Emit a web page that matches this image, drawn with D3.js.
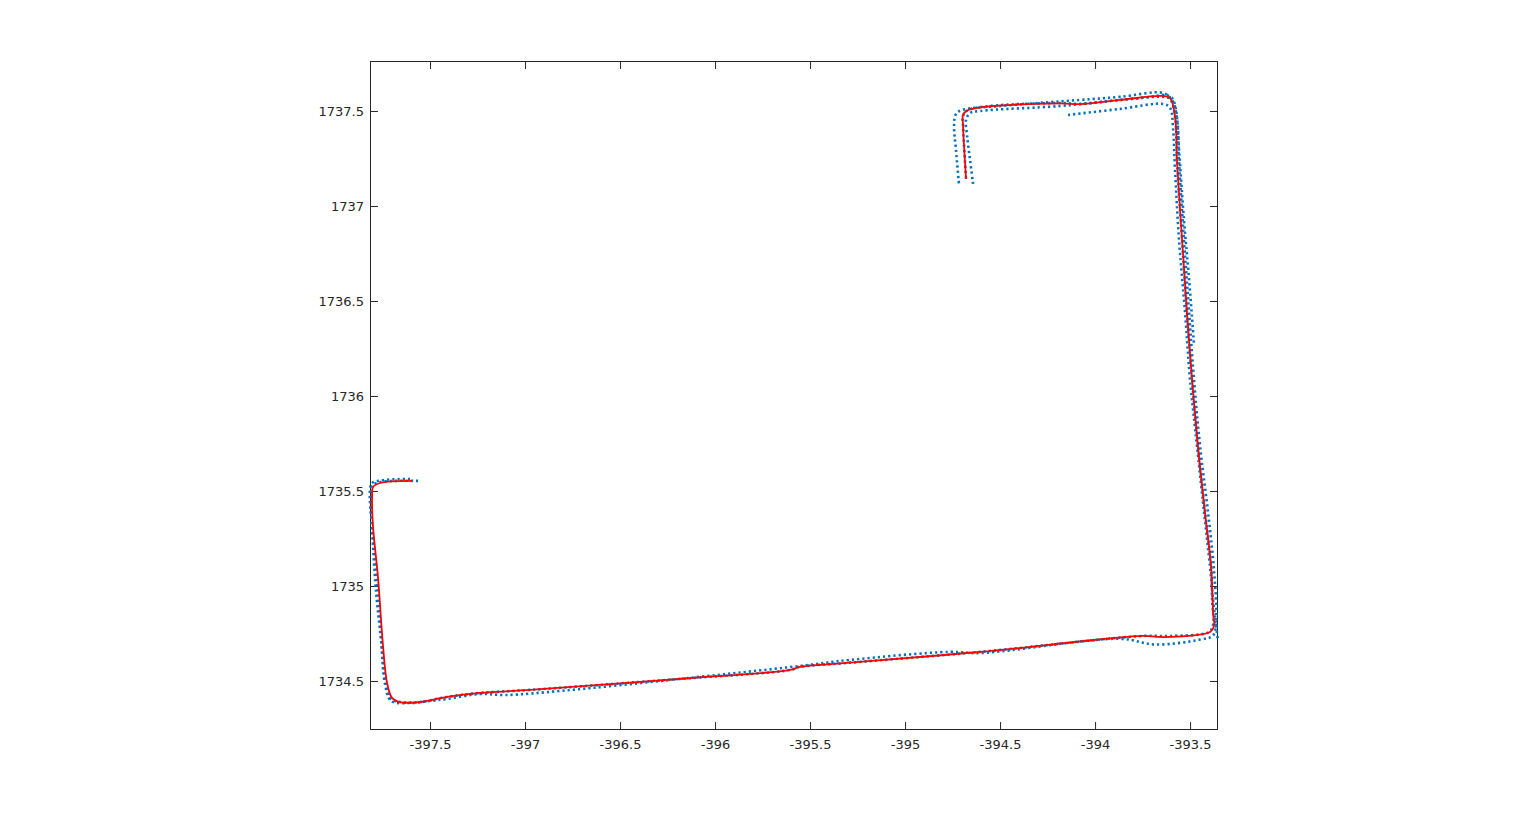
<!DOCTYPE html>
<html>
<head>
<meta charset="utf-8">
<script src="https://cdn.jsdelivr.net/npm/d3@7"></script>
<style>
  html, body { margin: 0; padding: 0; background: #fff; }
  svg { display: block; }
  .tick text { font-family: "DejaVu Sans", sans-serif; font-size: 13px; fill: #262626; }
</style>
</head>
<body>
<svg id="chart" width="1535" height="821"></svg>
<script>
// tick values
const xTicks = [-397.5, -397, -396.5, -396, -395.5, -395, -394.5, -394, -393.5];
const yTicks = [1734.5, 1735, 1735.5, 1736, 1736.5, 1737, 1737.5];

// estimated path (red)
const redX = [-397.595, -397.763, -397.800, -397.805, -397.800, -397.774, -397.747, -397.726, -397.700, -397.658,
  -397.553, -397.411, -397.237, -396.974, -396.184, -395.605, -395.553, -395.305, -394.605, -393.747,
  -393.674, -393.605, -393.395, -393.374, -393.379, -393.389, -393.421, -393.458, -393.489, -393.516,
  -393.542, -393.568, -393.579, -393.605, -393.642, -393.868, -394.079, -394.184, -394.668, -394.695,
  -394.695, -394.679];
const redY = [1735.553, 1735.542, 1735.521, 1735.468, 1735.311, 1735.047, 1734.679, 1734.489, 1734.411, 1734.389,
  1734.389, 1734.416, 1734.437, 1734.453, 1734.511, 1734.558, 1734.574, 1734.595, 1734.653, 1734.737,
  1734.732, 1734.732, 1734.758, 1734.789, 1734.858, 1735.100, 1735.384, 1735.732, 1736.084, 1736.437,
  1736.821, 1737.226, 1737.468, 1737.568, 1737.579, 1737.558, 1737.536, 1737.540, 1737.505, 1737.479,
  1737.426, 1737.142];

// measured runs (blue, dotted)
const blue1X = [-397.563, -397.684, -397.763, -397.800, -397.811, -397.805, -397.779, -397.753, -397.732, -397.705,
  -397.658, -397.553, -397.411, -397.237, -396.974, -396.184, -395.605, -395.553, -395.305, -394.605,
  -393.747, -393.605, -393.400, -393.379, -393.384, -393.389, -393.421, -393.458, -393.489, -393.516,
  -393.542, -393.568, -393.579, -393.605, -393.642, -393.868, -394.079, -394.184, -394.668, -394.695,
  -394.695, -394.679];
const blue1Y = [1735.553, 1735.553, 1735.547, 1735.532, 1735.489, 1735.311, 1735.047, 1734.679, 1734.484, 1734.405,
  1734.389, 1734.389, 1734.416, 1734.437, 1734.453, 1734.511, 1734.558, 1734.574, 1734.595, 1734.653,
  1734.737, 1734.737, 1734.758, 1734.795, 1734.926, 1735.100, 1735.384, 1735.732, 1736.084, 1736.437,
  1736.821, 1737.226, 1737.468, 1737.563, 1737.574, 1737.558, 1737.537, 1737.542, 1737.505, 1737.474,
  1737.426, 1737.142];

const blue2X = [-397.605, -397.737, -397.805, -397.816, -397.805, -397.784, -397.758, -397.737, -397.705, -397.605,
  -397.500, -397.411, -397.237, -397.105, -396.789, -396.184, -395.553, -395.289, -394.763, -394.605,
  -393.868, -393.684, -393.447, -393.379,
  -393.363, -393.374, -393.405, -393.447, -393.479, -393.505, -393.532, -393.558, -393.568, -393.595,
  -393.642, -393.868, -394.079, -394.500, -394.700, -394.732, -394.742, -394.732, -394.716];
const blue2Y = [1735.563, 1735.558, 1735.542, 1735.505, 1735.295, 1734.968, 1734.716, 1734.484, 1734.395, 1734.384,
  1734.395, 1734.405, 1734.432, 1734.426, 1734.450, 1734.511, 1734.579, 1734.611, 1734.653, 1734.647,
  1734.722, 1734.692, 1734.718, 1734.740,
  1734.821, 1735.084, 1735.384, 1735.732, 1736.084, 1736.437, 1736.821, 1737.226, 1737.453, 1737.558,
  1737.595, 1737.574, 1737.558, 1737.526, 1737.505, 1737.484, 1737.426, 1737.295, 1737.111];

const blue3X = [-394.642, -394.658, -394.674, -394.679, -394.658, -394.605, -394.184, -393.974, -393.711, -393.632,
  -393.595, -393.574, -393.558, -393.532, -393.505, -393.479];
const blue3Y = [1737.116, 1737.242, 1737.374, 1737.453, 1737.489, 1737.500, 1737.526, 1737.547, 1737.574, 1737.584,
  1737.568, 1737.505, 1737.295, 1736.926, 1736.611, 1736.268];

const blue4X = [-394.142, -393.868, -393.642, -393.605, -393.589, -393.579, -393.558, -393.526, -393.500, -393.463,
  -393.426, -393.395, -393.379, -393.363, -393.355];
const blue4Y = [1737.479, 1737.511, 1737.537, 1737.516, 1737.400, 1737.189, 1736.821, 1736.437, 1736.084, 1735.732,
  1735.384, 1735.100, 1734.926, 1734.795, 1734.726];

const zip = (xs, ys) => xs.map((x, i) => [x, ys[i]]);
const blueRuns = [zip(blue1X, blue1Y), zip(blue2X, blue2Y), zip(blue3X, blue3Y), zip(blue4X, blue4Y)];
const redPath = zip(redX, redY);

const svg = d3.select('#chart');
const margin = { left: 370, top: 61, right: 1218, bottom: 730 };

const x = d3.scaleLinear()
    .domain([-397.816, -393.353])
    .range([margin.left, margin.right]);
const y = d3.scaleLinear()
    .domain([1734.242, 1737.763])
    .range([margin.bottom, margin.top]);

const line = d3.line()
    .x(d => x(d[0]))
    .y(d => y(d[1]))
    .curve(d3.curveCatmullRom.alpha(0.5));

const fmt = d => String(d);
const tickLen = 8;
const axisColor = '#262626';

// axes with inward ticks, like the original
svg.append('g')
    .attr('transform', `translate(0,${margin.bottom})`)
    .call(d3.axisBottom(x).tickValues(xTicks).tickFormat(fmt).tickSizeInner(-tickLen).tickSizeOuter(0).tickPadding(10));
svg.append('g')
    .attr('transform', `translate(0,${margin.top})`)
    .call(d3.axisTop(x).tickValues(xTicks).tickFormat('').tickSizeInner(-tickLen).tickSizeOuter(0));
svg.append('g')
    .attr('transform', `translate(${margin.left},0)`)
    .call(d3.axisLeft(y).tickValues(yTicks).tickFormat(fmt).tickSizeInner(-tickLen).tickSizeOuter(0).tickPadding(6));
svg.append('g')
    .attr('transform', `translate(${margin.right},0)`)
    .call(d3.axisRight(y).tickValues(yTicks).tickFormat('').tickSizeInner(-tickLen).tickSizeOuter(0));

svg.selectAll('.domain').remove();
svg.selectAll('.tick line').attr('stroke', axisColor);

svg.append('rect')
    .attr('x', margin.left + 0.5)
    .attr('y', margin.top + 0.5)
    .attr('width', margin.right - margin.left - 1)
    .attr('height', margin.bottom - margin.top - 1)
    .attr('fill', 'none')
    .attr('stroke', axisColor)
    .attr('stroke-width', 1);

svg.selectAll('path.run')
    .data(blueRuns)
    .join('path')
    .attr('class', 'run')
    .attr('d', line)
    .attr('fill', 'none')
    .attr('stroke', '#0072bd')
    .attr('stroke-width', 2.6)
    .attr('stroke-dasharray', '2.2 3');

svg.append('path')
    .attr('d', line(redPath))
    .attr('fill', 'none')
    .attr('stroke', '#ff0000')
    .attr('stroke-width', 1.8)
    .attr('stroke-linejoin', 'round');
</script>
</body>
</html>
